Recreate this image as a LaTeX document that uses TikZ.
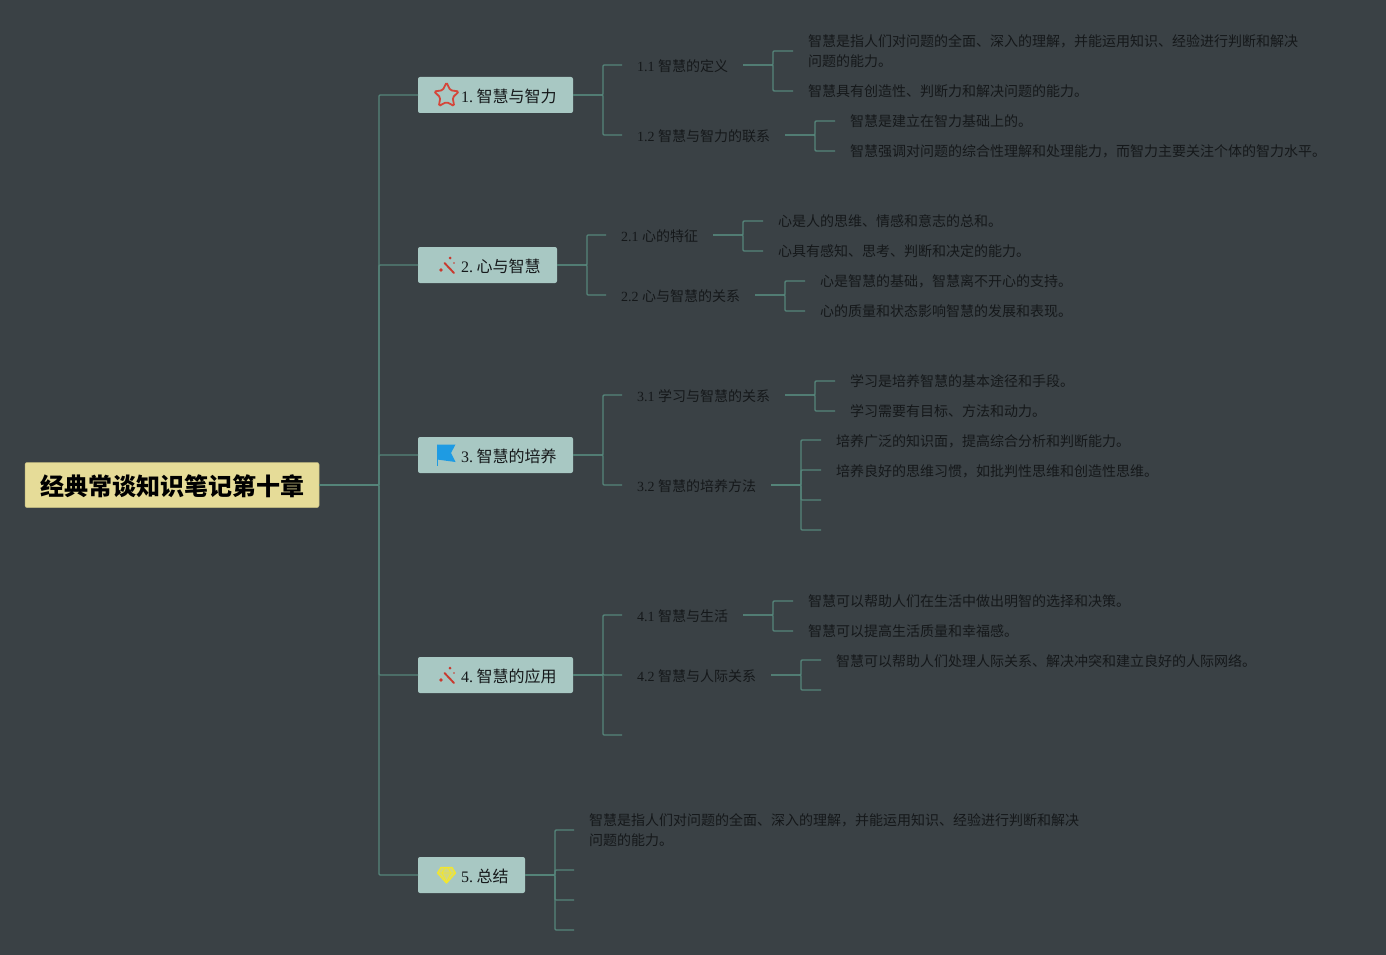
\documentclass[tikz,border=0pt]{standalone}
\usepackage{fontspec}
\setmainfont{Liberation Serif}
\newfontfamily\cjk{Noto Sans CJK SC}
\usetikzlibrary{shapes.geometric}
\definecolor{bgc}{HTML}{3A4145}
\definecolor{linec}{HTML}{55857A}
\definecolor{txtc}{HTML}{15181A}
\definecolor{leafc}{HTML}{15181A}
\definecolor{rootc}{HTML}{E6DC98}
\definecolor{mainc}{HTML}{A8C8C3}
\definecolor{redc}{HTML}{D5463A}
\definecolor{wandc}{HTML}{C9392E}
\definecolor{bluec}{HTML}{1E9BE3}
\definecolor{yelc}{HTML}{F2E62E}
\definecolor{yelf}{HTML}{D2D87E}
\tikzset{
  conn/.style={draw=linec,line width=1.4pt,line join=round,rounded corners=1pt},
  rootnode/.style={anchor=west,fill=rootc,draw=rootc!85!black,line width=.5pt,rounded corners=2pt,minimum height=45pt,inner xsep=15pt,inner ysep=0pt,outer sep=0pt,text=black,font=\fontsize{24}{28}\selectfont\cjk\bfseries},
  mainnode/.style={anchor=west,fill=mainc,rounded corners=2pt,minimum height=36pt,inner xsep=0pt,inner ysep=0pt,outer sep=0pt,text=txtc,font=\fontsize{16}{20}\selectfont},
  subnode/.style={anchor=west,inner xsep=15pt,inner ysep=0pt,outer sep=0pt,minimum height=20pt,text=leafc,font=\fontsize{14}{20}\selectfont},
  leafnode/.style={anchor=west,inner xsep=15pt,inner ysep=0pt,outer sep=0pt,align=left,text=leafc,font=\fontsize{14}{20}\selectfont\cjk},
  icondraw/.style={line join=round,line cap=round},
}
\newcommand{\lowr}[1]{\raisebox{-1pt}[\height][\depth]{#1}}
\newcommand{\mt}[2]{\hspace*{43pt}\lowr{#1\hspace{3.5pt}{\cjk #2}}\hspace*{16.5pt}}
\newcommand{\st}[2]{\lowr{#1 {\cjk #2}}}
\begin{document}
\begin{tikzpicture}[x=1pt,y=-1pt]
\fill[bgc] (0,0) rectangle (1386,955);
\useasboundingbox (0,0) rectangle (1386,955);

\node[rootnode] (root) at (25,485) {\raisebox{-1.5pt}[\height][\depth]{经典常谈知识笔记第十章}};

\node[mainnode] (m1) at (418,95) {\mt{1.}{智慧与智力}};
\node[mainnode] (m2) at (418,265) {\mt{2.}{心与智慧}};
\node[mainnode] (m3) at (418,455) {\mt{3.}{智慧的培养}};
\node[mainnode] (m4) at (418,675) {\mt{4.}{智慧的应用}};
\node[mainnode] (m5) at (418,875) {\mt{5.}{总结}};

\node[subnode] (s11) at (622,65) {\st{1.1}{智慧的定义}};
\node[subnode] (s12) at (622,135) {\st{1.2}{智慧与智力的联系}};
\node[subnode] (s21) at (606,235) {\st{2.1}{心的特征}};
\node[subnode] (s22) at (606,295) {\st{2.2}{心与智慧的关系}};
\node[subnode] (s31) at (622,395) {\st{3.1}{学习与智慧的关系}};
\node[subnode] (s32) at (622,485) {\st{3.2}{智慧的培养方法}};
\node[subnode] (s41) at (622,615) {\st{4.1}{智慧与生活}};
\node[subnode] (s42) at (622,675) {\st{4.2}{智慧与人际关系}};
\coordinate (s43) at (622,735);

\node[leafnode] (l111) at (793,51) {智慧是指人们对问题的全面、深入的理解，并能运用知识、经验进行判断和解决\\问题的能力。};
\node[leafnode] (l112) at (793,91) {智慧具有创造性、判断力和解决问题的能力。};
\node[leafnode] (l121) at (835,121) {智慧是建立在智力基础上的。};
\node[leafnode] (l122) at (835,151) {智慧强调对问题的综合性理解和处理能力，而智力主要关注个体的智力水平。};
\node[leafnode] (l211) at (763,221) {心是人的思维、情感和意志的总和。};
\node[leafnode] (l212) at (763,251) {心具有感知、思考、判断和决定的能力。};
\node[leafnode] (l221) at (805,281) {心是智慧的基础，智慧离不开心的支持。};
\node[leafnode] (l222) at (805,311) {心的质量和状态影响智慧的发展和表现。};
\node[leafnode] (l311) at (835,381) {学习是培养智慧的基本途径和手段。};
\node[leafnode] (l312) at (835,411) {学习需要有目标、方法和动力。};
\node[leafnode] (l321) at (821,440) {\lowr{培养广泛的知识面，提高综合分析和判断能力。}};
\node[leafnode] (l322) at (821,470) {\lowr{培养良好的思维习惯，如批判性思维和创造性思维。}};
\coordinate (l323) at (821,500);
\coordinate (l324) at (821,530);
\node[leafnode] (l411) at (793,601) {智慧可以帮助人们在生活中做出明智的选择和决策。};
\node[leafnode] (l412) at (793,631) {智慧可以提高生活质量和幸福感。};
\node[leafnode] (l421) at (821,660) {\lowr{智慧可以帮助人们处理人际关系、解决冲突和建立良好的人际网络。}};
\coordinate (l422) at (821,690);
\node[leafnode] (l51) at (574,830) {智慧是指人们对问题的全面、深入的理解，并能运用知识、经验进行判断和解决\\问题的能力。};
\coordinate (l52) at (574,870);
\coordinate (l53) at (574,900);
\coordinate (l54) at (574,930);

% root connectors
\foreach \t in {m1,m2,m3,m4,m5}
  \draw[conn] (root.east) -- ([xshift=60pt]root.east) |- (\t.west);
% branch connectors
\foreach \f/\t in {m1/s11,m1/s12,m2/s21,m2/s22,m3/s31,m3/s32,m4/s41,m4/s42,m4/s43,
  s11/l111,s11/l112,s12/l121,s12/l122,s21/l211,s21/l212,s22/l221,s22/l222,
  s31/l311,s31/l312,s41/l411,s41/l412}
  \draw[conn] (\f.east) -- ([xshift=30pt]\f.east) |- (\t.west);
\foreach \t in {l321,l322}
  \draw[conn] (s32.east) -- ([xshift=30pt]s32.east) |- (\t.west);
\foreach \t in {l323,l324}
  \draw[conn] (s32.east) -- ([xshift=30pt]s32.east) |- (\t);
\draw[conn] (s42.east) -- ([xshift=30pt]s42.east) |- (l421.west);
\draw[conn] (s42.east) -- ([xshift=30pt]s42.east) |- (l422);
\draw[conn] (m5.east) -- ([xshift=30pt]m5.east) |- (l51.west);
\foreach \t in {l52,l53,l54}
  \draw[conn] (m5.east) -- ([xshift=30pt]m5.east) |- (\t);

% icons
\node[star,star points=5,star point ratio=2.0,draw=redc,line width=1.8pt,rounded corners=1.5pt,minimum size=26pt,inner sep=0pt] (icon1) at (446.5,95.5) {};
\foreach \o in {265,675}{
  \begin{scope}[icondraw]
    \draw[wandc,line width=1.9pt] (444.5,\o-2) -- (454,\o+8);
    \fill[wandc] (441,\o+5) circle (1.9pt) (450,\o-7) circle (1.5pt) (454,\o-2) circle (.8pt);
  \end{scope}
}
\draw[bluec,line width=.9pt] (437.3,444.5) -- (437.3,465.5);
\fill[bluec] (437,444.5) -- (455.5,444.5) -- (451,453) -- (455.5,462) -- (437,459.5) -- cycle;
\fill[yelf] (441,867.5) -- (452,867.5) -- (455.5,873) -- (446.5,883) -- (437.5,873) -- cycle;
\draw[yelc,line width=1.3pt,line join=round] (441,867.5) -- (452,867.5) -- (455.5,873) -- (446.5,883) -- (437.5,873) -- cycle;
\draw[yelc,line width=.9pt,line join=round] (437.5,873) -- (455.5,873) (442,873) -- (446.5,882) -- (451,873) -- (448,868) -- (445,868) -- cycle;
\end{tikzpicture}
\end{document}
